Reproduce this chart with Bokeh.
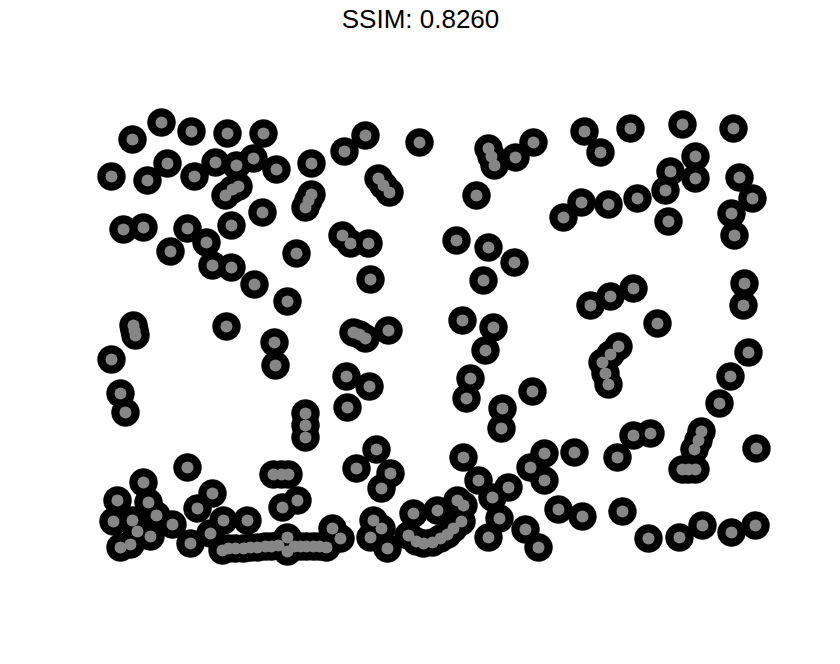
from bokeh.plotting import figure
from bokeh.models import ColumnDataSource, Label, Range1d
from bokeh.embed import file_html
from bokeh.resources import INLINE

title_text = "SSIM: 0.8260"

xs = [132, 161, 191, 227, 263, 111, 147, 167, 194, 215, 236, 253, 276, 311, 225, 238, 311, 305, 262, 231,
      123, 143, 187, 206, 170, 212, 231, 254, 296, 287, 133, 135, 226, 274, 275,
      365, 344, 419, 378, 389, 488, 494, 515, 533, 476, 342, 350, 368, 370, 456, 488, 514, 483, 462, 493,
      353, 365, 388,
      584, 600, 630, 682, 733, 695, 670, 695, 665, 739, 752, 731, 734, 668, 563, 581, 608, 637, 590, 610,
      633, 744, 743, 657,
      111, 120, 125, 305, 305, 187, 273, 288, 143, 117, 212, 197, 282, 297, 148, 113, 132, 156, 172, 137,
      150, 120, 130, 190, 210, 223, 247, 222,
      235, 250, 265, 278, 287, 287, 300, 313, 326, 340, 332,
      346, 369, 347, 470, 466, 502, 501, 532, 376, 356, 390, 381, 463, 478, 492, 508, 544, 530, 544, 499,
      488, 525, 538, 413, 437, 457, 463, 373, 381, 370, 387, 408, 423, 440, 453, 461, 485,
      618, 602, 608, 748, 730, 719, 574, 617, 633, 650, 701, 694, 682, 695, 756, 558, 582, 622, 648, 679,
      702, 731, 755,
      228, 243, 257, 271, 294, 306, 319, 232, 308, 383, 491, 305, 281, 416, 432, 447, 359, 134, 610, 688,
      698, 605]

ys = [139, 122, 131, 133, 133, 176, 180, 163, 176, 162, 165, 158, 169, 163, 195, 186, 194, 207, 212, 225,
      229, 227, 228, 242, 251, 265, 267, 284, 253, 301, 325, 335, 326, 342, 365,
      135, 151, 142, 178, 192, 148, 165, 157, 142, 195, 235, 243, 243, 279, 240, 247, 262, 280, 320, 327,
      332, 338, 330,
      131, 152, 128, 124, 128, 156, 171, 178, 190, 177, 198, 213, 235, 221, 217, 202, 204, 198, 305, 296,
      288, 283, 305, 323,
      359, 393, 412, 413, 437, 467, 474, 474, 482, 500, 493, 508, 507, 500, 502, 521, 520, 515, 524, 531,
      536, 547, 544, 543, 533, 520, 520, 550,
      548, 547, 546, 545, 537, 551, 546, 546, 547, 538, 528,
      376, 386, 407, 378, 398, 408, 428, 391, 449, 468, 473, 488, 457, 480, 497, 487, 453, 467, 480, 518,
      537, 529, 547, 513, 510, 500, 505, 520, 528, 537, 548, 535, 543, 538, 528, 521, 350,
      346, 362, 384, 352, 376, 403, 452, 457, 435, 433, 431, 449, 469, 469, 448, 509, 516, 511, 538, 537,
      525, 532, 525,
      548, 548, 547, 546, 546, 546, 546, 189, 200, 185, 156, 425, 474, 541, 542, 534, 334, 330, 354, 469,
      440, 373]

src = ColumnDataSource(data=dict(x=xs, y=ys))

p = figure(width=840, height=664, output_backend="svg", toolbar_location=None,
           x_range=Range1d(0, 840), y_range=Range1d(664, 0), min_border=0)
p.axis.visible = False
p.grid.visible = False
p.outline_line_color = None
p.background_fill_color = "white"
p.border_fill_color = "white"

p.scatter("x", "y", source=src, size=28, fill_color="black", line_color="black", line_width=0.5)
p.scatter("x", "y", source=src, size=12, fill_color="#868686", line_color=None)

lbl = Label(x=420, y=18, text=title_text, text_align="center", text_baseline="middle",
            text_font="Liberation Sans", text_font_size="26px", text_color="black")
p.add_layout(lbl)

open("out.html", "w").write(file_html(p, INLINE))
